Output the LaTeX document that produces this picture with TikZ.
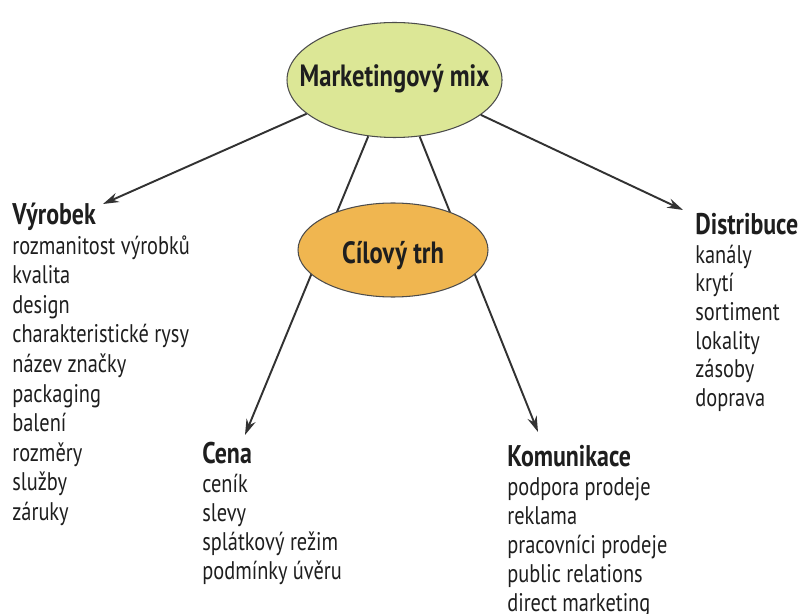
\documentclass[tikz,border=0pt]{standalone}
\usepackage{fontspec}
\setmainfont{PT Sans}[FakeStretch=0.8]
\usetikzlibrary{arrows.meta,shapes.geometric,positioning}
\definecolor{mixgreen}{RGB}{220,231,150}
\definecolor{trhorange}{RGB}{240,182,80}
\definecolor{linegray}{RGB}{50,50,50}
\definecolor{textgray}{RGB}{30,30,30}
\begin{document}
\begin{tikzpicture}[
  bubble/.style={ellipse,draw=black!70,line width=0.6pt,inner sep=0pt},
  bubtext/.style={inner sep=0pt,font=\fontsize{17.5}{20}\selectfont\bfseries,text=textgray},
  heading/.style={anchor=base west,inner sep=0pt,
    font=\fontsize{17}{20}\selectfont\bfseries,text=textgray},
  item/.style={anchor=base west,inner sep=0pt,
    font=\fontsize{14.5}{17}\selectfont,text=textgray},
  arr/.style={linegray,line width=1.1pt,-{Stealth[length=9pt,width=5.5pt]}}
]
\useasboundingbox (0,0) rectangle (16,-12.28);

% marketing mix
\node[bubble,fill=mixgreen,minimum width=4.3cm,minimum height=2.3cm] (mix) at (7.89,-1.6) {};
\node[bubtext] (mixtext) at ([yshift=0.02cm]mix.center) {Marketingový mix};

% arrow tips
\coordinate (tipV) at (2.06,-4.08);
\coordinate (tipD) at (13.66,-4.20);
\coordinate (tipC) at (4.90,-8.70);
\coordinate (tipK) at (10.76,-8.64);

\draw[arr] (mix.201) -- (tipV);
\draw[arr] (mix.338) -- (tipD);
\draw[arr] (mix.245) -- (tipC);
\draw[arr] (mix.294) -- (tipK);

% target market, drawn over the two lines
\node[bubble,fill=trhorange,minimum width=3.8cm,minimum height=1.88cm] (trh) at (7.86,-5.0) {};
\node[bubtext] (trhtext) at ([yshift=-0.12cm]trh.center) {Cílový trh};

% Vyrobek
\node[heading] (vyrobek) at (0.24,-4.50) {Výrobek};
\foreach \t [count=\i] in {rozmanitost výrobků,kvalita,design,charakteristické rysy,název značky,packaging,balení,rozměry,služby,záruky}
  \node[item] (vyrobek-\i) at ([yshift=-\i*0.59cm]vyrobek.base west) {\t};

% Distribuce
\node[heading] (distribuce) at (13.9,-4.70) {Distribuce};
\foreach \t [count=\i] in {kanály,krytí,sortiment,lokality,zásoby,doprava}
  \node[item] (distribuce-\i) at ([yshift=-\i*0.57cm]distribuce.base west) {\t};

% Cena
\node[heading] (cena) at (4.04,-9.26) {Cena};
\foreach \t [count=\i] in {ceník,slevy,splátkový režim,podmínky úvěru}
  \node[item] (cena-\i) at ([yshift=-\i*0.58cm]cena.base west) {\t};

% Komunikace
\node[heading] (komunikace) at (10.14,-9.32) {Komunikace};
\foreach \t [count=\i] in {podpora prodeje,reklama,pracovníci prodeje,public relations,direct marketing}
  \node[item] (komunikace-\i) at ([yshift=-\i*0.58cm]komunikace.base west) {\t};
\end{tikzpicture}
\end{document}
